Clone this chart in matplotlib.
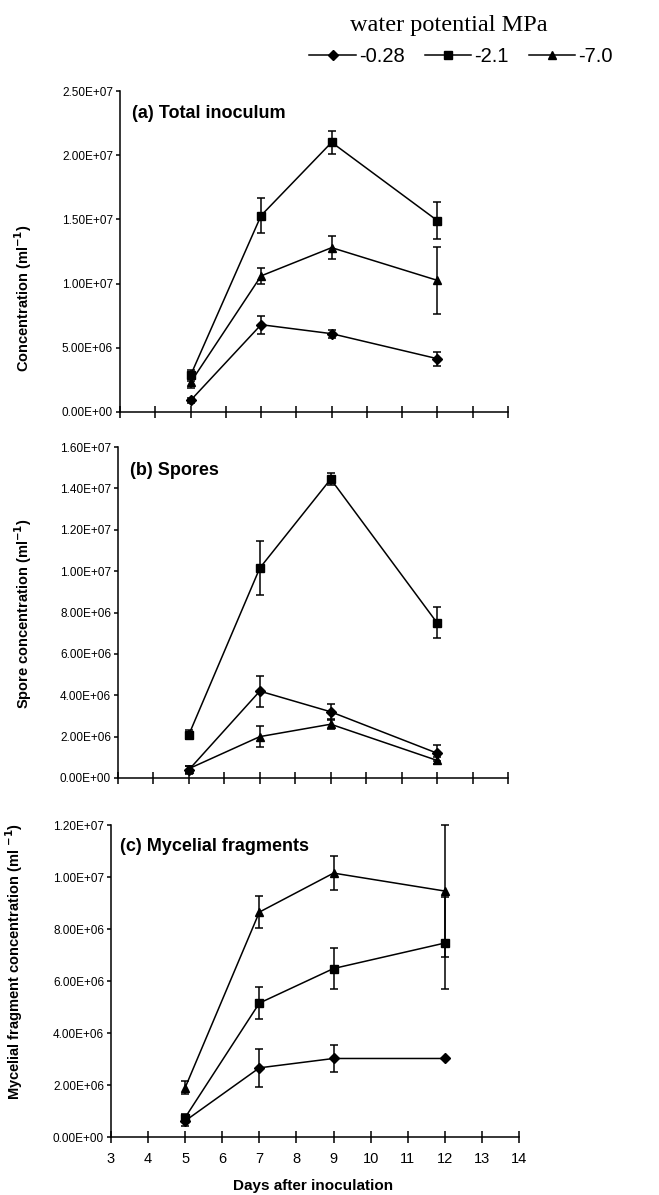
import matplotlib
matplotlib.use("Agg")
from matplotlib import pyplot as plt
from matplotlib.ticker import FuncFormatter, MultipleLocator
from matplotlib.lines import Line2D

plt.rcParams['font.family'] = ['Liberation Sans', 'DejaVu Sans']

days = [5, 7, 9, 12]
potentials = ['-0.28', '-2.1', '-7.0']

# (a) total inoculum
total_mean = {
    '-0.28': [0.9e6, 6.8e6, 6.1e6, 4.15e6],
    '-2.1': [2.85e6, 15.3e6, 21.0e6, 14.9e6],
    '-7.0': [2.3e6, 10.6e6, 12.8e6, 10.25e6],
}
total_err = {
    '-0.28': [0.2e6, 0.7e6, 0.3e6, 0.55e6],
    '-2.1': [0.4e6, 1.35e6, 0.9e6, 1.45e6],
    '-7.0': [0.4e6, 0.65e6, 0.9e6, 2.6e6],
}

# (b) spores
spore_mean = {
    '-0.28': [0.4e6, 4.2e6, 3.2e6, 1.2e6],
    '-2.1': [2.1e6, 10.15e6, 14.45e6, 7.5e6],
    '-7.0': [0.45e6, 2.0e6, 2.6e6, 0.85e6],
}
spore_err = {
    '-0.28': [0.2e6, 0.75e6, 0.4e6, 0.4e6],
    '-2.1': [0.2e6, 1.3e6, 0.3e6, 0.75e6],
    '-7.0': [0.15e6, 0.5e6, 0.25e6, 0.15e6],
}

# (c) mycelial fragments
myc_mean = {
    '-0.28': [0.62e6, 2.66e6, 3.02e6, 3.02e6],
    '-2.1': [0.75e6, 5.15e6, 6.48e6, 7.46e6],
    '-7.0': [1.9e6, 8.65e6, 10.15e6, 9.46e6],
}
myc_err = {
    '-0.28': [0.2e6, 0.72e6, 0.52e6, 0.0],
    '-2.1': [0.15e6, 0.62e6, 0.78e6, 1.76e6],
    '-7.0': [0.24e6, 0.62e6, 0.66e6, 2.54e6],
}

markers = {'-0.28': ('D', 4.8), '-2.1': ('s', 5.2), '-7.0': ('^', 6.2)}

W, H = 659, 1195
fig = plt.figure(figsize=(W / 100, H / 100), dpi=100)


def px_axes(left, right, top, bottom):
    return fig.add_axes([left / W, 1 - bottom / H, (right - left) / W, (bottom - top) / H])


def draw_panel(ax, means, errs, ymax, ystep, title, title_x, show_xlabels):
    for p in potentials:
        m, ms = markers[p]
        ax.errorbar(days, means[p], yerr=errs[p], color='black', lw=1.1,
                    marker=m, ms=ms, capsize=2.7, capthick=1.1, elinewidth=1.1,
                    label=p, clip_on=False)
    ax.set_xlim(3, 14)
    ax.set_ylim(0, ymax)
    ax.xaxis.set_major_locator(MultipleLocator(1))
    ax.yaxis.set_major_locator(MultipleLocator(ystep))
    ax.yaxis.set_major_formatter(FuncFormatter(lambda v, _: '%.2E' % v))
    for s in ('top', 'right'):
        ax.spines[s].set_visible(False)
    for s in ('left', 'bottom'):
        ax.spines[s].set_linewidth(1.1)
    ax.tick_params(axis='x', direction='inout', length=9, width=1.1, labelsize=10.5, pad=6)
    ax.tick_params(axis='y', direction='out', length=3, width=1.1, labelsize=8.5, pad=2)
    if not show_xlabels:
        ax.set_xticklabels([])
    ax.text(title_x, 0.93, title, transform=ax.transAxes, fontsize=13,
            fontweight='bold', va='center', ha='left')


ax_a = px_axes(120, 508, 91, 412)
draw_panel(ax_a, total_mean, total_err, 2.5e7, 5e6, '(a) Total inoculum', 0.03, False)

ax_b = px_axes(118, 508, 447, 778)
draw_panel(ax_b, spore_mean, spore_err, 1.6e7, 2e6, '(b) Spores', 0.03, False)

ax_c = px_axes(111, 519, 825, 1137)
draw_panel(ax_c, myc_mean, myc_err, 1.2e7, 2e6, '(c) Mycelial fragments', 0.022, True)

# y labels
fig.text(23 / W, 1 - 298 / H, 'Concentration (ml$^{\\mathbf{-1}}$)', rotation=90,
         fontsize=10.5, fontweight='bold', ha='center', va='center')
fig.text(23 / W, 1 - 614 / H, 'Spore concentration (ml$^{\\mathbf{-1}}$)', rotation=90,
         fontsize=10.5, fontweight='bold', ha='center', va='center')
fig.text(14 / W, 1 - 962 / H, 'Mycelial fragment concentration (ml $^{\\mathbf{-1}}$)',
         rotation=90, fontsize=10.5, fontweight='bold', ha='center', va='center')
fig.text(313 / W, 1 - 1186 / H, 'Days after inoculation', fontsize=11,
         fontweight='bold', ha='center', va='center')

# legend
fig.text(449 / W, 1 - 25 / H, 'water potential MPa', family='Liberation Serif',
         fontsize=17.5, ha='center', va='center')
handles = [Line2D([], [], color='black', lw=1.1, marker=markers[p][0],
                  ms=markers[p][1]) for p in potentials]
fig.legend(handles, potentials, loc='center', bbox_to_anchor=(461 / W, 1 - 57 / H),
           ncol=3, frameon=False, fontsize=14.5, handlelength=2.3,
           handletextpad=0.15, columnspacing=1.0)

fig.savefig('out.png', dpi=100)
